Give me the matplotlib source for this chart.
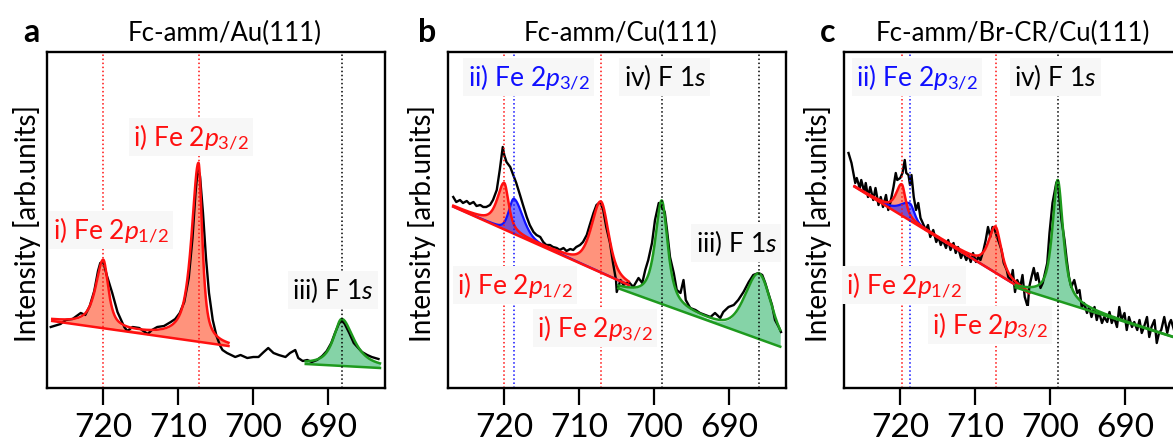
import numpy as np
import matplotlib.pyplot as plt

plt.rcParams['font.family'] = ['Lato', 'DejaVu Sans']
plt.rcParams['mathtext.fontset'] = 'custom'
plt.rcParams['mathtext.rm'] = 'Lato'
plt.rcParams['mathtext.it'] = 'Lato:italic'

W, H = 1173, 443

# measured spectra: (binding energy [eV], intensity [arb. units])
a_spec = [(727.0, 61), (725.7, 64), (725.0, 68), (724.1, 69), (723.0, 75), (722.4, 73), (721.8, 82),
          (721.2, 97), (720.7, 117), (720.4, 125), (720.0, 126), (719.5, 112), (718.8, 95), (718.1, 76),
          (717.2, 61), (716.8, 57), (716.1, 61), (715.2, 60), (714.1, 54), (713.5, 58), (712.8, 61),
          (711.9, 62), (711.0, 66), (710.4, 69), (709.8, 75), (709.2, 86), (708.6, 110), (708.1, 150),
          (707.7, 195), (707.4, 220), (707.1, 212), (706.7, 175), (706.3, 130), (705.9, 95), (705.4, 68),
          (704.9, 52), (704.4, 42), (704.1, 38), (703.5, 35), (702.4, 31), (701.7, 33), (700.8, 30),
          (700.0, 31), (699.3, 31), (698.6, 36), (698.0, 40), (697.3, 35), (696.6, 33), (695.7, 31),
          (695.1, 35), (694.4, 38), (694.0, 30), (693.4, 27), (692.8, 28), (692.2, 26), (691.5, 28),
          (690.8, 32), (690.2, 37), (689.6, 45), (689.1, 55), (688.6, 64), (688.2, 68), (687.8, 64),
          (687.2, 55), (686.6, 45), (686.0, 40), (685.5, 36), (684.8, 33), (684.2, 31), (683.3, 29)]

b_spec = [(726.8, 191), (726.4, 186), (725.9, 188), (725.5, 185), (725.0, 187), (724.6, 184), (724.1, 186),
          (723.7, 182), (723.2, 183), (722.8, 181), (722.4, 181), (721.9, 183), (721.5, 188), (721.0, 198),
          (720.6, 218), (720.2, 241), (720.0, 233), (719.7, 226), (719.2, 221), (718.8, 213), (718.4, 205),
          (717.9, 193), (717.5, 183), (717.0, 171), (716.6, 163), (716.1, 156), (715.7, 153), (715.2, 151),
          (714.8, 146), (714.4, 143), (713.9, 143), (713.5, 141), (713.0, 140), (712.6, 138), (712.1, 140),
          (711.7, 137), (711.2, 139), (710.8, 138), (710.4, 141), (709.9, 143), (709.5, 146), (709.0, 153),
          (708.6, 163), (708.1, 175), (707.7, 183), (707.2, 186), (706.8, 178), (706.4, 161), (705.9, 145),
          (705.5, 125), (705.1, 108), (705.0, 96), (704.5, 108), (704.1, 103), (703.4, 106), (702.8, 101),
          (702.1, 110), (701.6, 105), (701.2, 118), (700.8, 128), (700.3, 145), (699.9, 168), (699.4, 185),
          (699.0, 181), (698.6, 176), (698.3, 158), (697.9, 131), (697.4, 115), (697.0, 98), (696.5, 95),
          (696.1, 108), (695.8, 88), (695.2, 80), (694.5, 78), (693.9, 75), (693.2, 73), (692.5, 71),
          (691.9, 75), (691.2, 70), (690.8, 76), (690.1, 81), (689.4, 83), (688.8, 88), (688.1, 96),
          (687.4, 106), (686.8, 113), (686.1, 115), (685.6, 113), (685.2, 105), (684.8, 95), (684.3, 83),
          (683.9, 68), (683.4, 61), (683.1, 56)]

c_spec = [(726.9, 235), (726.5, 225), (726.0, 205), (725.8, 210), (725.4, 200), (725.2, 208), (724.8, 196),
          (724.6, 205), (724.3, 191), (724.0, 201), (723.6, 188), (723.3, 200), (722.9, 183), (722.6, 191),
          (722.3, 181), (721.9, 193), (721.6, 178), (721.3, 186), (720.9, 201), (720.6, 215), (720.4, 208),
          (720.0, 210), (719.7, 215), (719.4, 228), (719.2, 215), (718.9, 213), (718.7, 203), (718.5, 213),
          (718.2, 191), (717.9, 178), (717.6, 185), (717.3, 170), (717.0, 165), (716.6, 158), (716.3, 163),
          (716.0, 151), (715.6, 158), (715.2, 146), (714.9, 151), (714.6, 143), (714.3, 148), (713.9, 140),
          (713.6, 148), (713.3, 138), (712.9, 145), (712.6, 135), (712.3, 141), (711.9, 130), (711.6, 136),
          (711.2, 128), (710.9, 133), (710.6, 126), (710.3, 135), (709.9, 126), (709.6, 131), (709.3, 128),
          (708.9, 138), (708.6, 148), (708.3, 161), (708.0, 151), (707.7, 161), (707.4, 158), (707.1, 151),
          (706.8, 145), (706.5, 138), (706.2, 125), (705.8, 118), (705.6, 111), (705.2, 108), (705.0, 118),
          (704.7, 96), (704.4, 108), (704.0, 101), (703.7, 113), (703.4, 91), (703.0, 81), (702.8, 101),
          (702.5, 111), (702.2, 120), (701.9, 108), (701.7, 115), (701.3, 100), (701.0, 105), (700.7, 115),
          (700.4, 125), (700.1, 155), (699.7, 185), (699.2, 205), (699.0, 208), (698.8, 191), (698.5, 168),
          (698.1, 148), (697.8, 128), (697.5, 111), (697.2, 101), (696.8, 108), (696.4, 95), (696.1, 98),
          (695.8, 81), (695.5, 85), (695.1, 75), (694.8, 81), (694.5, 71), (694.1, 81), (693.8, 68),
          (693.5, 76), (693.1, 65), (692.8, 71), (692.4, 66), (692.1, 76), (691.8, 65), (691.5, 71),
          (691.1, 61), (690.8, 81), (690.5, 68), (690.1, 75), (689.8, 58), (689.5, 71), (689.1, 61),
          (688.8, 66), (688.4, 58), (688.1, 68), (687.8, 55), (687.5, 61), (687.1, 71), (686.8, 51),
          (686.5, 61), (686.1, 68), (685.8, 45), (685.5, 55), (685.2, 58), (684.8, 71), (684.4, 55),
          (684.1, 65), (683.9, 68), (683.5, 58), (683.1, 63)]

# linear backgrounds: (E start, E end), (I start, I end)
a_bg_fe = ((726.8, 703.3), (67, 42))
a_bg_f = ((693.0, 683.1), (24, 20))
b_bg_fe = ((726.8, 703.4), (181.3, 103))
b_bg_f = ((704.8, 683.2), (99.7, 41.3))
c_bg_fe = ((726.1, 702.8), (201.3, 94.7))
c_bg_f = ((704.6, 682.4), (100.5, 48.1))

# fit components: centre, height, hwhm (high BE side), hwhm (low BE side), lorentz fraction
a_fe_i = [(720.0, 67.5, 1.2, 0.8, 0.8), (707.3, 178.7, 1.1, 0.6, 0.8)]
a_f = [(688.2, 47, 1.3, 1.9, 0.8)]
b_fe_i = [(720.0, 46, 1.1, 0.7, 0.7), (707.1, 71, 1.5, 1.2, 0.5)]
b_fe_ii = [(718.7, 35, 0.8, 1.4, 0.4)]
b_f = [(699.0, 103, 1.05, 0.95, 0.8), (686.0, 65, 2.2, 1.9, 0.3)]
c_fe_i = [(719.8, 31, 0.9, 0.6, 0.7), (707.3, 46, 1.1, 0.9, 0.7)]
c_fe_ii = [(718.7, 17, 1.5, 0.7, 0.5)]
c_f = [(699.0, 120.7, 0.85, 0.85, 0.8)]

titles = ['Fc-amm/Au(111)', 'Fc-amm/Cu(111)', 'Fc-amm/Br-CR/Cu(111)']
letters = ['a', 'b', 'c']
xticks = [720, 710, 700, 690]

RED, BLUE, GREEN = '#ff1010', '#1010ff', '#1e9a1e'
REDF, BLUEF, GREENF = '#ff3a10', '#2020ff', '#22b060'


def comp(E, c, h, wh, wl, eta):
    d = (E - c) / np.where(E > c, wh, wl)
    return h * (eta / (1 + d**2) + (1 - eta) * np.exp(-np.log(2) * d**2))


def fit(ax, bg, peaks, fill, alpha):
    E = np.linspace(bg[0][0], bg[0][1], 800)
    base = np.interp(E, bg[0][::-1], bg[1][::-1])
    tot = base.copy()
    for p in peaks:
        y = comp(E, *p)
        ax.fill_between(E, base, base + y, color=fill, alpha=alpha, lw=0)
        tot = tot + y
    return E, base, tot


def lab(ax, E, y, s, col):
    ax.text(E, y, s, color=col, fontsize=19, ha='left', va='center',
            bbox=dict(facecolor='#f7f7f7', edgecolor='none', pad=3))


fig = plt.figure(figsize=(W / 100, H / 100), dpi=100)
lefts = [47, 448, 844]
axs = [fig.add_axes([l / W, 55 / H, 337.5 / W, 336 / H]) for l in lefts]

panels = [(a_spec, a_bg_fe, a_fe_i, [], a_bg_f, a_f),
          (b_spec, b_bg_fe, b_fe_i, b_fe_ii, b_bg_f, b_f),
          (c_spec, c_bg_fe, c_fe_i, c_fe_ii, c_bg_f, c_f)]

for ax, (spec, bgfe, fe1, fe2, bgf, f1s) in zip(axs, panels):
    Er, base, red = fit(ax, bgfe, fe1, REDF, 0.55)
    if fe2:
        Eb, _, blue = fit(ax, bgfe, fe2, BLUEF, 0.6)
    Eg, gbase, green = fit(ax, bgf, f1s, GREENF, 0.55)
    E, I = np.array(spec).T
    ax.plot(E, I, color='k', lw=1.7)
    if fe2:
        ax.plot(Eb, blue, color=BLUE, lw=1.6)
    ax.plot(Er, base, color=RED, lw=1.8)
    ax.plot(Er, red, color=RED, lw=1.8)
    ax.plot(Eg, gbase, color=GREEN, lw=1.8)
    ax.plot(Eg, green, color=GREEN, lw=1.8)
    for p in fe1:
        ax.axvline(p[0], color=RED, ls=':', lw=1.1)
    for p in fe2:
        ax.axvline(p[0], color=BLUE, ls=':', lw=1.1)
    for p in f1s:
        ax.axvline(p[0], color='k', ls=':', lw=1.1)
    ax.set_xlim(727.5, 682.5)
    ax.set_ylim(0, 336)
    ax.set_xticks(xticks)
    ax.set_yticks([])
    ax.tick_params(axis='x', direction='out', length=12, width=1.6, pad=6, labelsize=24)
    for s in ax.spines.values():
        s.set_linewidth(1.7)

# peak labels
lab(axs[0], 716.0, 251, r'i) Fe 2$p_{3/2}$', RED)
lab(axs[0], 726.7, 158, r'i) Fe 2$p_{1/2}$', RED)
lab(axs[0], 694.8, 98, r'iii) F 1$s$', 'k')

lab(axs[1], 724.9, 311, r'ii) Fe 2$p_{3/2}$', BLUE)
lab(axs[1], 704.1, 311, r'iv) F 1$s$', 'k')
lab(axs[1], 694.5, 145, r'iii) F 1$s$', 'k')
lab(axs[1], 726.3, 103, r'i) Fe 2$p_{1/2}$', RED)
lab(axs[1], 715.6, 60, r'i) Fe 2$p_{3/2}$', RED)

lab(axs[2], 725.9, 311, r'ii) Fe 2$p_{3/2}$', BLUE)
lab(axs[2], 704.8, 311, r'iv) F 1$s$', 'k')
lab(axs[2], 727.2, 103, r'i) Fe 2$p_{1/2}$', RED)
lab(axs[2], 715.7, 63, r'i) Fe 2$p_{3/2}$', RED)

tx = [225, 621, 1013]
lx = [23, 418, 820]
yl = [27, 422, 818]
for i in range(3):
    fig.text(tx[i] / W, 1 - 33 / H, titles[i], fontsize=18.5, ha='center', va='center')
    fig.text(lx[i] / W, 1 - 33 / H, letters[i], fontsize=23, fontweight='bold', ha='left', va='center')
    fig.text(yl[i] / W, 1 - 223 / H, 'Intensity [arb.units]', fontsize=20, rotation=90,
             ha='center', va='center')

fig.savefig('out.png', dpi=100)
